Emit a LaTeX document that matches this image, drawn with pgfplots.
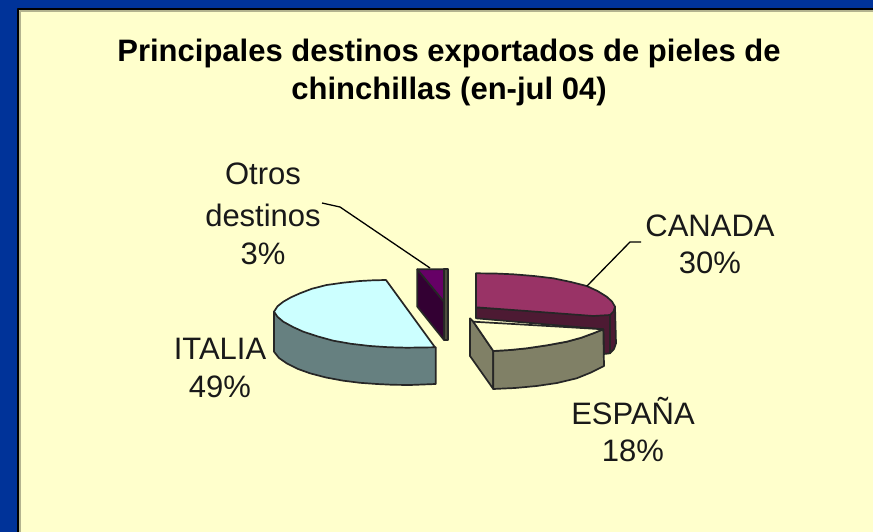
\documentclass[border=0pt]{standalone}
\usepackage{pgfplots}
\pgfplotsset{compat=1.18}
\usepackage{fontspec}
\setmainfont{Liberation Sans}
\definecolor{blueb}{HTML}{003399}
\definecolor{panel}{HTML}{FFFFCC}
\definecolor{canT}{HTML}{993366}
\definecolor{canS}{HTML}{4D1A33}
\definecolor{itaT}{HTML}{CCFFFF}
\definecolor{itaS}{HTML}{668080}
\definecolor{espS}{HTML}{808066}
\definecolor{otrT}{HTML}{660066}
\definecolor{otrS}{HTML}{330033}
\newcommand{\lab}[3]{\node[anchor=base,inner sep=0pt,text=black!90] at (axis cs:#1,#2) {\fontsize{31}{36}\selectfont #3};}
\newcommand{\ttl}[3]{\node[anchor=base,inner sep=0pt,text=black] at (axis cs:#1,#2) {\fontsize{31}{36}\selectfont\bfseries #3};}
\begin{document}
\begin{tikzpicture}
\begin{axis}[
  scale only axis, width=873pt, height=532pt,
  xmin=0, xmax=873, ymin=0, ymax=532, y dir=reverse,
  hide axis, clip=true,
  every axis plot/.append style={line join=round, line width=1.7pt},
]
% background
\addplot[fill=blueb, draw=none] coordinates {(0,0)(873,0)(873,532)(0,532)} --cycle;
\addplot[fill=panel, draw=none] coordinates {(18,9)(873,9)(873,532)(18,532)} --cycle;
\addplot[draw=black, line width=1.6pt] coordinates {(18,532)(18,9)(873,9)};
\addplot[draw=espS!60!panel, line width=1.2pt] coordinates {(20,532)(20,11)(873,11)};
% ITALIA
\addplot[fill=itaS, draw=black!85] coordinates {(274,311.7)(274,351.7)(279,358)(286.7,363.3)(297.5,368.8)(310,373.3)(326,377.5)(343.3,380.7)(360,382.8)(376.7,384)(393,384.8)(410,385)(435.7,384)(435.7,347.3)} --cycle;
\addplot[fill=itaT, draw=black!85] coordinates {(386,280)(373,280.3)(360,281)(343,282.7)(326.7,285)(312,288.7)(300,293.3)(291,297.3)(283.3,301.7)(277.5,306.3)(274,311.7)(277.5,316.8)(283.3,321.7)(293,327)(303.3,331.7)(318,336.5)(333.3,340.7)(351,343.8)(370,346)(388,347.2)(406.7,347.7)(435,347.3)} --cycle;
% Otros destinos
\addplot[fill=otrS, draw=black!85] coordinates {(417.3,269.3)(444,301.7)(444,340)(417.3,306.7)} --cycle;
\addplot[fill=otrT, draw=black!85] coordinates {(417.3,269.3)(444,269.3)(444,301.7)} --cycle;
\addplot[fill=espS!60!black, draw=black!85] coordinates {(444,269.3)(447.7,269.3)(447.7,340)(444,340)} --cycle;
% CANADA
\addplot[fill=canS, draw=black!85] coordinates {(476,307.3)(610,315)(615,306.7)(616,343.3)(614,349)(610,353.3)(604,354)(603.3,329.3)(476,318.3)} --cycle;
\addplot[draw=black!85] coordinates {(610,315)(610,353)};
\addplot[fill=canT, draw=black!85] coordinates {(476,273.3)(495,273.5)(513.3,274.3)(534,276)(553.3,278.3)(571,282)(586.7,286)(597.5,291)(606.7,296.7)(612,301.5)(615,306.7)(613.5,311.5)(610,315)(593.3,316)(526.7,311)(476,307.3)} --cycle;
% ESPANA
\addplot[fill=espS, draw=black!85] coordinates {(470,318.3)(473.3,321.7)(493.3,351)(493.3,389)(470,356)} --cycle;
\addplot[fill=espS, draw=black!85] coordinates {(493.3,351)(510,350)(526.7,348.3)(547,345.3)(566.7,341.7)(581,337.8)(593.3,333.3)(603.3,329.3)(604,366)(591,372.5)(576.7,378.3)(557,383)(536.7,386)(515,388)(493.3,389)} --cycle;
\addplot[fill=panel, draw=black!85] coordinates {(473.3,321.7)(493.3,351)(510,350)(526.7,348.3)(547,345.3)(566.7,341.7)(581,337.8)(593.3,333.3)(603.3,329.3)(560,326.7)} --cycle;
% leader lines
\addplot[draw=black, line width=1.3pt] coordinates {(322,203)(340,207)(430,268)};
\addplot[draw=black, line width=1.3pt] coordinates {(587,286)(630,242)(641,242)};
% text
\ttl{449}{62}{Principales destinos exportados de pieles de}
\ttl{449}{100}{chinchillas (en-jul 04)}
\lab{263}{185}{Otros}
\lab{263}{226}{destinos}
\lab{263}{264}{3\%}
\lab{710}{236}{CANADA}
\lab{710}{273}{30\%}
\lab{220}{359}{ITALIA}
\lab{220}{397}{49\%}
\lab{633}{424}{ESPAÑA}
\lab{633}{461}{18\%}
\end{axis}
\end{tikzpicture}
\end{document}
